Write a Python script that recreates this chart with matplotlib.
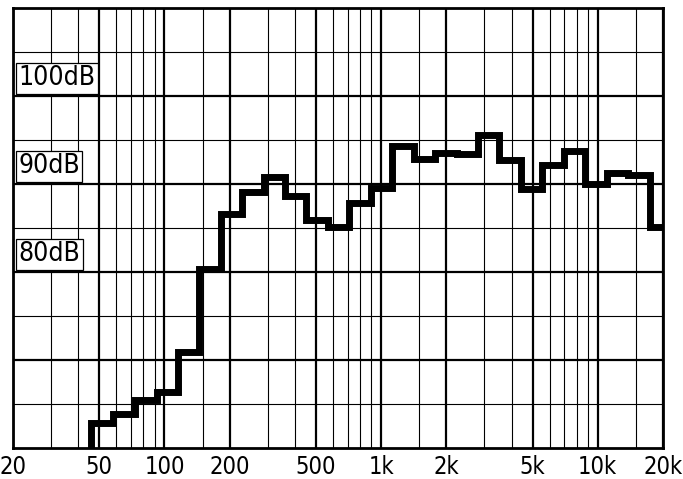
import matplotlib
matplotlib.use("Agg")
import matplotlib.pyplot as plt
from matplotlib.ticker import FixedLocator, NullFormatter, FixedFormatter
import matplotlib.transforms as mtransforms

band_edges = [46, 58, 73, 92, 115, 145, 182, 228, 287, 360, 452, 568, 714, 896,
              1126, 1414, 1776, 2230, 2801, 3518, 4419, 5550, 6971, 8756,
              11000, 13810, 17350, 19600]
band_levels = [62.8, 63.9, 65.4, 66.4, 70.9, 80.3, 86.6, 89.1, 90.8, 88.6,
               85.9, 85.1, 87.8, 89.5, 94.3, 92.8, 93.5, 93.4, 95.6, 92.7,
               89.4, 92.2, 93.7, 90.0, 91.2, 91.0, 85.1]

x_major = [20, 50, 100, 200, 500, 1000, 2000, 5000, 10000, 20000]
x_labels = ["20", "50", "100", "200", "500", "1k", "2k", "5k", "10k", "20k"]
x_minor = [30, 40, 60, 70, 80, 90, 150, 300, 400, 600, 700, 800, 900, 1500,
           3000, 4000, 6000, 7000, 8000, 9000, 15000]
y_major = [70, 80, 90, 100]
y_minor = [65, 75, 85, 95, 105]
db_labels = [100, 90, 80]

fig = plt.figure(figsize=(6.83, 4.79), dpi=100)
ax = fig.add_axes([13 / 683, 31 / 479, 650 / 683, 440 / 479])
ax.set_xscale("log")
ax.set_xlim(20, 20000)
ax.set_ylim(60, 110)

# grid
ax.xaxis.set_major_locator(FixedLocator(x_major))
ax.xaxis.set_major_formatter(FixedFormatter(x_labels))
ax.xaxis.set_minor_locator(FixedLocator(x_minor))
ax.xaxis.set_minor_formatter(NullFormatter())
ax.yaxis.set_major_locator(FixedLocator(y_major))
ax.yaxis.set_minor_locator(FixedLocator(y_minor))
ax.yaxis.set_major_formatter(NullFormatter())
ax.grid(which="major", color="black", linewidth=1.6, zorder=1)
ax.grid(which="minor", color="black", linewidth=0.8, zorder=1)
ax.tick_params(which="both", length=0)
ax.tick_params(axis="x", pad=5)
for lab in ax.get_xticklabels():
    lab.set_fontsize(17)
    lab.set_fontfamily("DejaVu Sans")
    lab.set_fontstretch("condensed")
for sp in ax.spines.values():
    sp.set_linewidth(2.0)

# stepped response curve
xs = [band_edges[0]] + band_edges
ys = [58] + band_levels + [band_levels[-1]]
ax.plot(xs, ys, drawstyle="steps-post", color="black", linewidth=5.0,
        solid_joinstyle="miter", zorder=3)

# boxed dB labels inside the plot
trans = mtransforms.blended_transform_factory(ax.transAxes, ax.transData)
for v in db_labels:
    ax.text(0.008, v + 2, f"{v}dB", transform=trans, ha="left", va="center",
            fontsize=19, fontfamily="DejaVu Sans", fontstretch="condensed",
            zorder=4,
            bbox=dict(boxstyle="square,pad=0.1", facecolor="white",
                      edgecolor="black", linewidth=0.9))

fig.savefig("out.png", dpi=100)
